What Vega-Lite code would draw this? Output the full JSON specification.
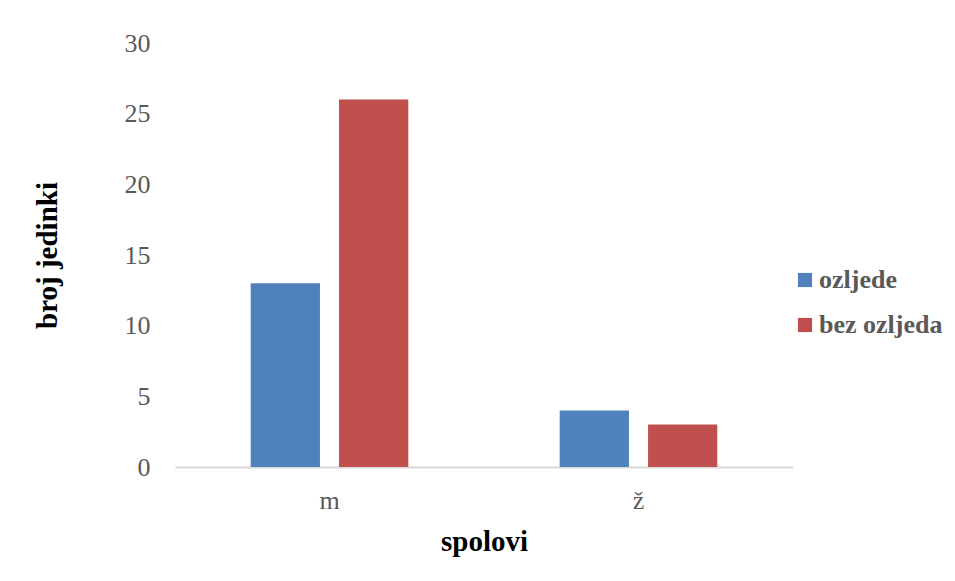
{
  "$schema": "https://vega.github.io/schema/vega-lite/v6.json",
  "autosize": "none",
  "width": 618,
  "height": 424,
  "padding": {"left": 175, "top": 43, "right": 162, "bottom": 114},
  "background": "white",
  "config": {
    "view": {"stroke": null},
    "font": "Liberation Serif"
  },
  "data": {
    "values": [
      {"spol": "m", "skupina": "ozljede", "broj": 13},
      {"spol": "m", "skupina": "bez ozljeda", "broj": 26},
      {"spol": "ž", "skupina": "ozljede", "broj": 4},
      {"spol": "ž", "skupina": "bez ozljeda", "broj": 3}
    ]
  },
  "mark": {"type": "bar"},
  "encoding": {
    "x": {
      "field": "spol",
      "type": "nominal",
      "sort": ["m", "ž"],
      "scale": {"paddingInner": 0.49, "paddingOuter": 0.245},
      "axis": {
        "title": "spolovi",
        "titleFont": "Liberation Serif",
        "titleFontSize": 29,
        "titleFontWeight": "bold",
        "titleColor": "#000000",
        "titlePadding": 14,
        "labelAngle": 0,
        "labelFontSize": 26,
        "labelColor": "#595959",
        "labelPadding": 20,
        "ticks": false,
        "domainColor": "#d9d9d9",
        "domainWidth": 2
      }
    },
    "xOffset": {
      "field": "skupina",
      "type": "nominal",
      "sort": ["ozljede", "bez ozljeda"],
      "scale": {"paddingInner": 0.216, "paddingOuter": 0}
    },
    "y": {
      "field": "broj",
      "type": "quantitative",
      "scale": {"domain": [0, 30]},
      "axis": {
        "title": "broj jedinki",
        "titleFont": "Liberation Serif",
        "titleFontSize": 29,
        "titleFontWeight": "bold",
        "titleColor": "#000000",
        "titlePadding": 62,
        "values": [0, 5, 10, 15, 20, 25, 30],
        "labelFontSize": 26,
        "labelColor": "#595959",
        "labelPadding": 25,
        "ticks": false,
        "domain": false,
        "grid": false
      }
    },
    "color": {
      "field": "skupina",
      "type": "nominal",
      "sort": ["ozljede", "bez ozljeda"],
      "scale": {"domain": ["ozljede", "bez ozljeda"], "range": ["#4F81BD", "#C0504D"]},
      "legend": {
        "title": null,
        "orient": "none",
        "legendX": 617,
        "legendY": 224,
        "symbolType": "square",
        "symbolSize": 200,
        "symbolStrokeWidth": 0,
        "labelFont": "Liberation Serif",
        "labelFontSize": 26,
        "labelFontWeight": "bold",
        "labelColor": "#595959",
        "labelOffset": 1,
        "rowPadding": 19
      }
    }
  }
}
